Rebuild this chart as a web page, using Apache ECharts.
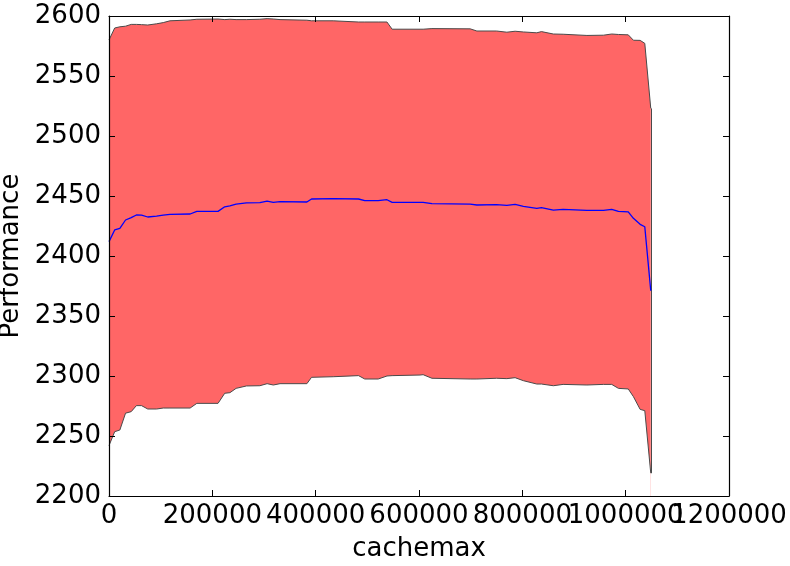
<!DOCTYPE html>
<html>
<head>
<meta charset="utf-8">
<script src="https://cdn.jsdelivr.net/npm/echarts@6/dist/echarts.min.js"></script>
<style>
html,body{margin:0;padding:0;background:#fff;}
#chart{width:790px;height:566px;}
</style>
</head>
<body>
<div id="chart"></div>
<script>
// cachemax values (x)
const cachemax = [0, 11000, 21000, 32000, 43000, 53000, 63000, 75000, 92000, 105000,
  118000, 157000, 170000, 211000, 224000, 234000, 246000, 266000, 292000, 306000,
  318000, 331000, 383000, 392000, 434000, 483000, 495000, 521000, 538000, 548000,
  602000, 608000, 625000, 699000, 712000, 750000, 770000, 786000, 802000, 828000,
  837000, 860000, 879000, 925000, 957000, 973000, 986000, 1005000, 1015000, 1028000,
  1037000, 1048576];
// mean performance
const meanPerf = [2412, 2421.7, 2423, 2430, 2432, 2434.2, 2434, 2432.5, 2433.3, 2434,
  2434.7, 2435, 2437.2, 2437.2, 2441, 2441.7, 2443.3, 2444.2, 2444.4, 2445.8,
  2444.7, 2445.3, 2445, 2447.5, 2447.8, 2447.5, 2446.1, 2446.1, 2446.9, 2444.7,
  2444.7, 2444.7, 2443.6, 2443.3, 2442.5, 2442.8, 2442.2, 2443, 2441.4, 2439.7,
  2440.3, 2438.3, 2438.9, 2438, 2438, 2438.9, 2437.2, 2436.7, 2431.4, 2426.4,
  2424.4, 2371];
// lower bound (mean - std)
const lowerPerf = [2242, 2253.6, 2255, 2269, 2270.3, 2275.3, 2275.3, 2272.5, 2272.5, 2273.3,
  2273.3, 2273.3, 2277.2, 2277.2, 2285.6, 2286.1, 2289.7, 2291.7, 2291.9, 2293.6,
  2292.5, 2293.6, 2293.6, 2298.9, 2299.4, 2300.3, 2297.5, 2297.5, 2300, 2300.3,
  2300.8, 2301.1, 2298.1, 2297.5, 2297.5, 2298.1, 2297.8, 2298.6, 2296.1, 2293.3,
  2293.3, 2291.9, 2293, 2292.5, 2293, 2293, 2289.7, 2289.2, 2282.8, 2272.2,
  2271.1, 2219];
// upper bound (mean + std)
const upperPerf = [2580, 2590, 2591, 2591.5, 2593, 2593, 2592.8, 2592.5, 2593.5, 2594.5,
  2596, 2596.7, 2597.3, 2597.5, 2597, 2597.3, 2597, 2597, 2597.3, 2597.8,
  2597.5, 2597, 2596.5, 2596, 2596, 2595, 2595, 2595, 2595, 2589,
  2589, 2589, 2589.5, 2589.3, 2587.5, 2587.5, 2586.5, 2587.3, 2586.7, 2586,
  2587, 2585, 2584.8, 2583.8, 2584, 2585, 2584.6, 2584.3, 2579.8, 2579.7,
  2577.2, 2523];

const xTicks = {min: 0, max: 1200000, interval: 200000};
const yTicks = {min: 2200, max: 2600, interval: 50};

const zip = (xs, ys) => xs.map((x, i) => [x, ys[i]]);
const FONT = 'DejaVu Sans';
const plain = v => String(v);
// split x tick labels over two overlaid axes so none gets hidden by overlap handling
const evenLabel = v => (Math.round(v / xTicks.interval) % 2 === 0 ? String(v) : '');
const oddLabel = v => (Math.round(v / xTicks.interval) % 2 === 1 ? String(v) : '');
const chart = echarts.init(document.getElementById('chart'), null, {renderer: 'canvas'});

const tickStyle = {show: true, inside: true, length: 6, lineStyle: {color: '#000', width: 1}};
const lineAx = {show: true, onZero: false, lineStyle: {color: '#000', width: 1.2}};
const xLabel = fmt => ({color: '#000', fontFamily: FONT, fontSize: 26, margin: 7, formatter: fmt,
  showMinLabel: true, showMaxLabel: true, hideOverlap: false});

const lastI = cachemax.length - 1;

chart.setOption({
  animation: false,
  backgroundColor: '#fff',
  grid: {left: 109, right: 61, top: 16, bottom: 70, containLabel: false, outerBoundsMode: 'none'},
  xAxis: [
    {type: 'value', position: 'bottom', min: xTicks.min, max: xTicks.max, interval: xTicks.interval,
      z: 10, axisLine: lineAx, axisTick: tickStyle, splitLine: {show: false},
      axisLabel: xLabel(evenLabel),
      name: 'cachemax', nameLocation: 'middle', nameGap: 40,
      nameTextStyle: {color: '#000', fontFamily: FONT, fontSize: 26}},
    {type: 'value', position: 'top', min: xTicks.min, max: xTicks.max, interval: xTicks.interval,
      z: 10, axisLine: lineAx, axisTick: tickStyle, splitLine: {show: false}, axisLabel: {show: false}},
    {type: 'value', position: 'bottom', min: xTicks.min, max: xTicks.max, interval: xTicks.interval,
      z: 10, axisLine: {show: false}, axisTick: {show: false}, splitLine: {show: false},
      axisLabel: xLabel(oddLabel)}
  ],
  yAxis: [
    {type: 'value', position: 'left', min: yTicks.min, max: yTicks.max, interval: yTicks.interval,
      z: 10, axisLine: lineAx, axisTick: tickStyle, splitLine: {show: false},
      axisLabel: {color: '#000', fontFamily: FONT, fontSize: 26, margin: 8, formatter: plain},
      name: 'Performance', nameLocation: 'middle', nameGap: 84,
      nameTextStyle: {color: '#000', fontFamily: FONT, fontSize: 26}},
    {type: 'value', position: 'right', min: yTicks.min, max: yTicks.max, interval: yTicks.interval,
      z: 10, axisLine: lineAx, axisTick: tickStyle, splitLine: {show: false}, axisLabel: {show: false}}
  ],
  series: [
    {name: 'upperFill', type: 'line', data: zip(cachemax, upperPerf), symbol: 'none', silent: true,
      lineStyle: {width: 0, opacity: 0}, areaStyle: {color: '#ff6666', opacity: 1, origin: 'start'}, z: 2},
    {name: 'lowerMask', type: 'line', data: zip(cachemax, lowerPerf), symbol: 'none', silent: true,
      lineStyle: {width: 0, opacity: 0}, areaStyle: {color: '#ffffff', opacity: 1, origin: 'start'}, z: 3},
    {name: 'upper', type: 'line', data: zip(cachemax, upperPerf), symbol: 'none',
      lineStyle: {color: '#4a4a4a', width: 1}, z: 4,
      markLine: {silent: true, symbol: 'none', label: {show: false},
        lineStyle: {color: '#4a4a4a', width: 1, type: 'solid'},
        data: [[{coord: [cachemax[lastI], upperPerf[lastI]]}, {coord: [cachemax[lastI], lowerPerf[lastI]]}]]}},
    {name: 'lower', type: 'line', data: zip(cachemax, lowerPerf), symbol: 'none',
      lineStyle: {color: '#4a4a4a', width: 1}, z: 4},
    {name: 'mean', type: 'line', data: zip(cachemax, meanPerf), symbol: 'none',
      lineStyle: {color: '#0000ff', width: 1.3}, z: 5}
  ]
});
</script>
</body>
</html>
